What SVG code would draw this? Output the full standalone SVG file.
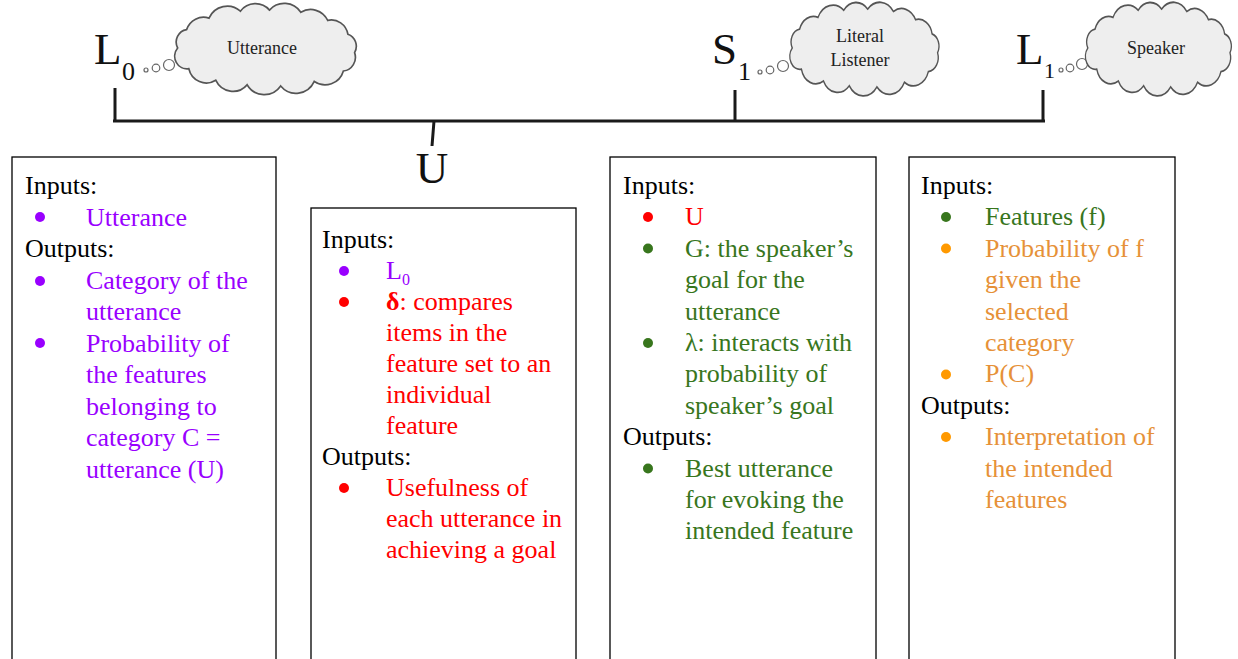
<svg xmlns="http://www.w3.org/2000/svg" xmlns:xlink="http://www.w3.org/1999/xlink" width="1238" height="659" viewBox="0 0 1238 659">
<style>
.t{font-size:26px;}
.k{fill:#000;}
.pu{fill:#9900ff;}
.rd{fill:#ff0000;}
.gn{fill:#38761d;}
.or{fill:#e69138;}
.bor{fill:#ff9900;}
.box{fill:#fff;stroke:#000;stroke-width:1.3;}
.cloud{fill:#eeeeee;stroke:#555;stroke-width:1.5;}
.conn{fill:none;stroke:#1a1a1a;stroke-width:3;}
.big{font-size:45px;fill:#111;}
.sub{font-size:26px;fill:#111;}
.ct{font-size:18px;fill:#222;text-anchor:middle;}
.bub{fill:#fff;stroke:#666;stroke-width:1.2;}
</style>
<defs>
<path id="cloudp" d="M-78,0 A11,11 0 0 1 -70,-16 A16,16 0 0 1 -50,-26 A18,18 0 0 1 -22,-32 A17,17 0 0 1 4,-33 A18,18 0 0 1 32,-31 A17,17 0 0 1 56,-24 A15,15 0 0 1 74,-12 A11,11 0 0 1 80,4 A12,12 0 0 1 70,20 A17,17 0 0 1 44,29 A18,18 0 0 1 14,33 A18,18 0 0 1 -16,32 A17,17 0 0 1 -44,28 A16,16 0 0 1 -68,18 A11,11 0 0 1 -78,0 Z"/>
</defs>
<rect width="1238" height="659" fill="#fff"/>

<g font-family="Liberation Serif, 'DejaVu Serif', 'Times New Roman', serif">
<g id="connectors">
<path class="conn" d="M115,88 V121 M113,121 H1045 M735,90 V121 M1043,90 V121 M434,121 L432,146"/>
</g>

<g id="L0">
<text class="big" x="94" y="64">L</text>
<text class="sub" x="122" y="80">0</text>
<circle class="bub" cx="146" cy="70" r="2"/>
<circle class="bub" cx="156" cy="68" r="3.8"/>
<circle class="bub" cx="169" cy="65" r="5.5"/>
<use xlink:href="#cloudp" class="cloud" transform="translate(265,48) scale(1.12,1.15)"/>
<text class="ct" x="262" y="54">Utterance</text>
</g>

<g id="S1">
<text class="big" x="712" y="64">S</text>
<text class="sub" x="738" y="80">1</text>
<circle class="bub" cx="760" cy="72" r="2"/>
<circle class="bub" cx="770" cy="70" r="3.8"/>
<circle class="bub" cx="783" cy="66" r="5.5"/>
<use xlink:href="#cloudp" class="cloud" transform="translate(864,48) scale(0.92,1.18)"/>
<text class="ct" x="860" y="42">Literal</text>
<text class="ct" x="860" y="66">Listener</text>
</g>

<g id="L1">
<text class="big" x="1016" y="64">L</text>
<text class="sub" x="1044" y="78" style="font-size:22px">1</text>
<circle class="bub" cx="1061" cy="70" r="2"/>
<circle class="bub" cx="1070" cy="68" r="3.8"/>
<circle class="bub" cx="1082" cy="64" r="5.5"/>
<use xlink:href="#cloudp" class="cloud" transform="translate(1158,48) scale(0.9,1.18)"/>
<text class="ct" x="1156" y="54">Speaker</text>
</g>

<g id="U">
<text class="big" x="432" y="183" text-anchor="middle">U</text>
</g>

<g id="box-L0">
<rect class="box" x="12" y="157" width="264" height="560"/>
<text class="t k" x="25" y="194">Inputs:</text>
<circle class="pu" cx="40" cy="217" r="5"/>
<text class="t pu" x="86" y="225.5">Utterance</text>
<text class="t k" x="25" y="257">Outputs:</text>
<circle class="pu" cx="40" cy="281" r="5"/>
<text class="t pu" x="86" y="288.5">Category of the</text>
<text class="t pu" x="86" y="320">utterance</text>
<circle class="pu" cx="40" cy="343" r="5"/>
<text class="t pu" x="86" y="351.5">Probability of</text>
<text class="t pu" x="86" y="383">the features</text>
<text class="t pu" x="86" y="414.5">belonging to</text>
<text class="t pu" x="86" y="446">category C =</text>
<text class="t pu" x="86" y="477.5">utterance (U)</text>
</g>

<g id="box-U">
<rect class="box" x="311" y="208" width="265" height="510"/>
<text class="t k" x="322" y="248">Inputs:</text>
<circle class="pu" cx="344" cy="271" r="5"/>
<text class="t pu" x="386" y="279">L<tspan style="font-size:16px" dy="6">0</tspan></text>
<circle class="rd" cx="344" cy="302" r="5"/>
<text class="t rd" x="386" y="310"><tspan font-weight="bold">δ</tspan>: compares</text>
<text class="t rd" x="386" y="341">items in the</text>
<text class="t rd" x="386" y="372">feature set to an</text>
<text class="t rd" x="386" y="403">individual</text>
<text class="t rd" x="386" y="434">feature</text>
<text class="t k" x="322" y="465">Outputs:</text>
<circle class="rd" cx="344" cy="488" r="5"/>
<text class="t rd" x="386" y="496">Usefulness of</text>
<text class="t rd" x="386" y="527">each utterance in</text>
<text class="t rd" x="386" y="558">achieving a goal</text>
</g>

<g id="box-S1">
<rect class="box" x="610" y="157" width="266" height="560"/>
<text class="t k" x="623" y="194">Inputs:</text>
<circle class="rd" cx="648" cy="217" r="5"/>
<text class="t rd" x="685" y="225.4">U</text>
<circle class="gn" cx="648" cy="248.5" r="5"/>
<text class="t gn" x="685" y="256.8">G: the speaker’s</text>
<text class="t gn" x="685" y="288.2">goal for the</text>
<text class="t gn" x="685" y="319.6">utterance</text>
<circle class="gn" cx="648" cy="343" r="5"/>
<text class="t gn" x="685" y="351">λ: interacts with</text>
<text class="t gn" x="685" y="382.4">probability of</text>
<text class="t gn" x="685" y="413.8">speaker’s goal</text>
<text class="t k" x="623" y="445.2">Outputs:</text>
<circle class="gn" cx="648" cy="468.5" r="5"/>
<text class="t gn" x="685" y="476.6">Best utterance</text>
<text class="t gn" x="685" y="508">for evoking the</text>
<text class="t gn" x="685" y="539.4">intended feature</text>
</g>

<g id="box-L1">
<rect class="box" x="909" y="157" width="266" height="560"/>
<text class="t k" x="921" y="194">Inputs:</text>
<circle class="gn" cx="946" cy="217" r="5"/>
<text class="t gn" x="985" y="225.4">Features (f)</text>
<circle class="bor" cx="946" cy="248.5" r="5"/>
<text class="t or" x="985" y="256.8">Probability of f</text>
<text class="t or" x="985" y="288.2">given the</text>
<text class="t or" x="985" y="319.6">selected</text>
<text class="t or" x="985" y="351">category</text>
<circle class="bor" cx="946" cy="374.5" r="5"/>
<text class="t or" x="985" y="382.4">P(C)</text>
<text class="t k" x="921" y="413.8">Outputs:</text>
<circle class="bor" cx="946" cy="437" r="5"/>
<text class="t or" x="985" y="445.2">Interpretation of</text>
<text class="t or" x="985" y="476.6">the intended</text>
<text class="t or" x="985" y="508">features</text>
</g>
</g>
</svg>
